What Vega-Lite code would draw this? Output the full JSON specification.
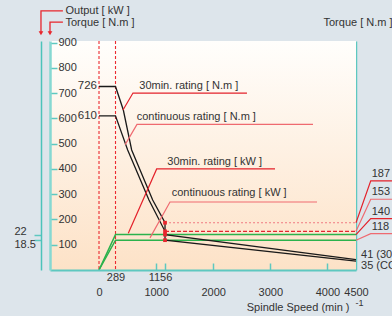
{
  "$schema": "https://vega.github.io/schema/vega-lite/v6.json",
  "width": 306,
  "height": 229,
  "autosize": {"type": "none"},
  "padding": {"left": 50, "top": 41, "right": 36, "bottom": 46},
  "background": "#dde5eb",
  "config": {
    "view": {"stroke": null},
    "font": "Liberation Sans",
    "text": {"font": "Liberation Sans", "fontSize": 11, "color": "#333333"},
    "axis": {
      "grid": false,
      "labelFont": "Liberation Sans",
      "labelFontSize": 11,
      "labelColor": "#333333",
      "titleFont": "Liberation Sans",
      "titleFontSize": 11,
      "titleFontWeight": "normal",
      "titleColor": "#333333",
      "domainColor": "#5ec8c0",
      "tickColor": "#5ec8c0"
    }
  },
  "datasets": {
    "bg": [{"a": 1}],
    "torque": [
      {"curve": "30min", "i": 0, "n": 0, "T": 726},
      {"curve": "30min", "i": 1, "n": 289, "T": 726},
      {"curve": "30min", "i": 2, "n": 426, "T": 633},
      {"curve": "30min", "i": 3, "n": 572, "T": 475},
      {"curve": "30min", "i": 4, "n": 940, "T": 277},
      {"curve": "30min", "i": 5, "n": 1156, "T": 187},
      {"curve": "30min", "i": 6, "n": 1156, "T": 140},
      {"curve": "30min", "i": 7, "n": 4500, "T": 41},
      {"curve": "cont", "i": 0, "n": 0, "T": 610},
      {"curve": "cont", "i": 1, "n": 289, "T": 610},
      {"curve": "cont", "i": 2, "n": 502, "T": 475},
      {"curve": "cont", "i": 3, "n": 875, "T": 277},
      {"curve": "cont", "i": 4, "n": 1156, "T": 153},
      {"curve": "cont", "i": 5, "n": 1156, "T": 118},
      {"curve": "cont", "i": 6, "n": 4500, "T": 35}
    ],
    "power": [
      {"kind": "30min", "i": 0, "n": 0, "P": 0},
      {"kind": "30min", "i": 1, "n": 289, "P": 22},
      {"kind": "30min", "i": 2, "n": 4500, "P": 22},
      {"kind": "cont", "i": 0, "n": 0, "P": 0},
      {"kind": "cont", "i": 1, "n": 289, "P": 18.5},
      {"kind": "cont", "i": 2, "n": 4500, "P": 18.5}
    ],
    "vref": [{"n": 0}, {"n": 289}],
    "href": [
      {"n": 1156, "n2": 4500, "T": 187, "kind": "30min"},
      {"n": 1156, "n2": 4500, "T": 153, "kind": "cont"}
    ],
    "dots": [
      {"n": 1156, "T": 187},
      {"n": 1156, "T": 153},
      {"n": 1156, "T": 140},
      {"n": 1156, "T": 118}
    ],
    "vlabels": [
      {"n": 0, "T": 726, "label": "726"},
      {"n": 0, "T": 610, "label": "610"}
    ],
    "leaders": [
      {"id": "a", "kind": "30min", "i": 0, "n": 420, "T": 633},
      {"id": "a", "kind": "30min", "i": 1, "n": 595, "T": 700},
      {"id": "a", "kind": "30min", "i": 2, "n": 2591, "T": 700},
      {"id": "b", "kind": "cont", "i": 0, "n": 458, "T": 496},
      {"id": "b", "kind": "cont", "i": 1, "n": 665, "T": 576},
      {"id": "b", "kind": "cont", "i": 2, "n": 3747, "T": 576},
      {"id": "c", "kind": "30min", "i": 0, "n": 513, "T": 145},
      {"id": "c", "kind": "30min", "i": 1, "n": 1010, "T": 400},
      {"id": "c", "kind": "30min", "i": 2, "n": 3082, "T": 400},
      {"id": "d", "kind": "cont", "i": 0, "n": 893, "T": 127},
      {"id": "d", "kind": "cont", "i": 1, "n": 1243, "T": 269},
      {"id": "d", "kind": "cont", "i": 2, "n": 3817, "T": 269},
      {"id": "r1", "kind": "30min", "i": 0, "n": 4500, "T": 187},
      {"id": "r1", "kind": "30min", "i": 1, "n": 4758, "T": 353},
      {"id": "r1", "kind": "30min", "i": 2, "n": 5130, "T": 353},
      {"id": "r2", "kind": "cont", "i": 0, "n": 4500, "T": 153},
      {"id": "r2", "kind": "cont", "i": 1, "n": 4758, "T": 280},
      {"id": "r2", "kind": "cont", "i": 2, "n": 5130, "T": 280},
      {"id": "r3", "kind": "30min", "i": 0, "n": 4500, "T": 140},
      {"id": "r3", "kind": "30min", "i": 1, "n": 4758, "T": 203},
      {"id": "r3", "kind": "30min", "i": 2, "n": 5130, "T": 203},
      {"id": "r4", "kind": "cont", "i": 0, "n": 4500, "T": 118},
      {"id": "r4", "kind": "cont", "i": 1, "n": 4758, "T": 144},
      {"id": "r4", "kind": "cont", "i": 2, "n": 5130, "T": 144}
    ],
    "notes": [
      {"n": 705, "T": 729, "label": "30min. rating [ N.m ]"},
      {"n": 660, "T": 604, "label": "continuous rating [ N.m ]"},
      {"n": 1196, "T": 428, "label": "30min. rating [ kW ]"},
      {"n": 1273, "T": 303, "label": "continuous rating [ kW ]"}
    ],
    "arrows": [
      {"id": "kw", "i": 0, "n": -1016, "T": 941},
      {"id": "kw", "i": 1, "n": -1016, "T": 1025},
      {"id": "kw", "i": 2, "n": -632, "T": 1025},
      {"id": "tq", "i": 0, "n": -858, "T": 941},
      {"id": "tq", "i": 1, "n": -858, "T": 981},
      {"id": "tq", "i": 2, "n": -632, "T": 981}
    ],
    "heads": [
      {"n": -1016, "T": 937},
      {"n": -858, "T": 937}
    ],
    "rlabels": [
      {"n": 4775, "T": 380, "label": "187"},
      {"n": 4775, "T": 307, "label": "153"},
      {"n": 4775, "T": 229, "label": "140"},
      {"n": 4775, "T": 170, "label": "118"},
      {"n": 4588, "T": 61, "label": "41 (30min. rating)"},
      {"n": 4588, "T": 17, "label": "35 (CONT. rating)"}
    ]
  },
  "resolve": {
    "scale": {"y": "independent"},
    "axis": {"x": "independent", "y": "independent"}
  },
  "layer": [
    {
      "data": {"name": "bg"},
      "mark": {
        "type": "rect",
        "fill": {
          "gradient": "linear",
          "x1": 0, "y1": 0, "x2": 0, "y2": 1,
          "stops": [
            {"offset": 0, "color": "#fffefc"},
            {"offset": 1, "color": "#fde2c7"}
          ]
        }
      },
      "encoding": {
        "x": {"datum": -858, "type": "quantitative", "scale": {"domain": [-858, 4500], "nice": false, "zero": false}, "axis": null},
        "x2": {"datum": 4500},
        "y": {"datum": 0, "type": "quantitative", "scale": {"domain": [0, 906], "nice": false, "zero": false}, "axis": null},
        "y2": {"datum": 906}
      }
    },
    {
      "data": {"name": "vref"},
      "mark": {"type": "rule", "stroke": "#ec2a30", "strokeDash": [3, 2], "strokeWidth": 1.1},
      "encoding": {
        "x": {"field": "n", "type": "quantitative", "scale": {"domain": [-858, 4500], "nice": false, "zero": false}, "axis": null}
      }
    },
    {
      "data": {"name": "power"},
      "mark": {"type": "line", "color": "#2bb24c", "strokeWidth": 1.5},
      "encoding": {
        "x": {
          "field": "n", "type": "quantitative",
          "scale": {"domain": [-858, 4500], "nice": false, "zero": false},
          "axis": {
            "orient": "bottom",
            "values": [1000, 1156, 2000, 3000, 4000],
            "labels": false,
            "domain": false,
            "ticks": true,
            "tickSize": -7,
            "tickWidth": 1.5,
            "zindex": 1,
            "title": null
          }
        },
        "y": {
          "field": "P", "type": "quantitative",
          "scale": {"domain": [0, 142.37], "nice": false, "zero": false},
          "axis": {
            "orient": "left",
            "offset": 9,
            "values": [18.5, 22],
            "format": ".1~f",
            "tickSize": 7,
            "tickWidth": 1.5,
            "labelAlign": "left",
            "labelBaseline": "middle",
            "labelPadding": 20,
            "labelOffset": {"condition": {"test": "datum.value > 20", "value": -3}, "value": 4},
            "domainColor": "#4cc3ba",
            "domainWidth": 1.5,
            "title": "Output [ kW ]",
            "titleAngle": 0,
            "titleAlign": "left",
            "titleBaseline": "middle",
            "titleX": 24,
            "titleY": -30.3
          }
        },
        "detail": {"field": "kind"},
        "order": {"field": "i"}
      }
    },
    {
      "encoding": {
        "x": {
          "field": "n", "type": "quantitative",
          "scale": {"domain": [-858, 4500], "nice": false, "zero": false},
          "axis": {
            "orient": "bottom",
            "values": [0, 1000, 2000, 3000, 4000, 4500],
            "format": "d",
            "ticks": false,
            "tickSize": 0,
            "labelPadding": 22,
            "labelBaseline": "middle",
            "labelFlush": false,
            "labelOverlap": false,
            "domainWidth": 2,
            "zindex": 1,
            "title": "Spindle Speed (min    )",
            "titleX": 299,
            "titleY": 37,
            "titleAlign": "right",
            "titleBaseline": "middle"
          }
        },
        "y": {
          "field": "T", "type": "quantitative",
          "scale": {"domain": [0, 906], "nice": false, "zero": false},
          "axis": {
            "orient": "left",
            "values": [100, 200, 300, 400, 500, 600, 700, 800, 900],
            "format": "d",
            "tickSize": -7,
            "tickWidth": 1.5,
            "labelAlign": "left",
            "labelBaseline": "middle",
            "labelPadding": -1,
            "domainColor": "#86d8d2",
            "domainWidth": 2.5,
            "zindex": 1,
            "title": "Torque [ N.m ]",
            "titleAngle": 0,
            "titleAlign": "left",
            "titleBaseline": "middle",
            "titleX": 15,
            "titleY": -18.7
          }
        }
      },
      "layer": [
        {
          "data": {"name": "href"},
          "mark": {"type": "rule", "strokeWidth": 1.2},
          "encoding": {
            "x2": {"field": "n2"},
            "stroke": {"field": "kind", "type": "nominal", "scale": {"domain": ["30min", "cont"], "range": ["#f07a80", "#e32630"]}, "legend": null},
            "strokeDash": {"field": "kind", "type": "nominal", "scale": {"domain": ["30min", "cont"], "range": [[2, 2], [4, 2]]}, "legend": null}
          }
        },
        {
          "data": {"name": "torque"},
          "mark": {"type": "line", "color": "#1a1a1a", "strokeWidth": 1.3},
          "encoding": {"detail": {"field": "curve"}, "order": {"field": "i"}}
        },
        {
          "data": {"name": "dots"},
          "mark": {"type": "point", "shape": "square", "filled": true, "size": 14, "color": "#e8262d", "opacity": 1},
          "encoding": {}
        },
        {
          "data": {"name": "vlabels"},
          "mark": {"type": "text", "align": "right", "baseline": "middle", "dx": -2, "fontSize": 11.5},
          "encoding": {"text": {"field": "label"}}
        },
        {
          "data": {"name": "leaders"},
          "mark": {"type": "line", "strokeWidth": 1.2, "clip": false},
          "encoding": {
            "color": {"field": "kind", "type": "nominal", "scale": {"domain": ["30min", "cont"], "range": ["#e4222b", "#ef6a70"]}, "legend": null},
            "detail": {"field": "id"},
            "order": {"field": "i"}
          }
        },
        {
          "data": {"name": "notes"},
          "mark": {"type": "text", "align": "left", "baseline": "middle", "clip": false},
          "encoding": {"text": {"field": "label"}}
        },
        {
          "data": {"name": "arrows"},
          "mark": {"type": "line", "color": "#e8262d", "strokeWidth": 1.3, "clip": false},
          "encoding": {"detail": {"field": "id"}, "order": {"field": "i"}}
        },
        {
          "data": {"name": "heads"},
          "mark": {"type": "point", "shape": "triangle-down", "filled": true, "size": 22, "color": "#e8262d", "opacity": 1, "clip": false},
          "encoding": {}
        }
      ]
    },
    {
      "data": {"name": "rlabels"},
      "mark": {"type": "text", "align": "left", "baseline": "middle", "clip": false},
      "encoding": {
        "x": {
          "field": "n", "type": "quantitative",
          "scale": {"domain": [-858, 4500], "nice": false, "zero": false},
          "axis": {
            "orient": "bottom",
            "values": [289, 1156],
            "format": "d",
            "ticks": false,
            "tickSize": 0,
            "domain": false,
            "labelPadding": 7.5,
            "labelBaseline": "middle",
            "labelFlush": false,
            "labelOffset": {"condition": {"test": "datum.value > 1000", "value": -5}, "value": 0},
            "title": "-1",
            "titleFontSize": 9,
            "titleX": 305,
            "titleY": 32,
            "titleAlign": "left",
            "titleBaseline": "middle"
          }
        },
        "y": {
          "field": "T", "type": "quantitative",
          "scale": {"domain": [0, 906], "nice": false, "zero": false},
          "axis": {
            "orient": "right",
            "ticks": false,
            "labels": false,
            "domainWidth": 1.5,
            "title": "Torque [ N.m ]",
            "titleAngle": 0,
            "titleAlign": "left",
            "titleBaseline": "middle",
            "titleX": -33,
            "titleY": -19
          }
        },
        "text": {"field": "label"}
      }
    }
  ]
}
